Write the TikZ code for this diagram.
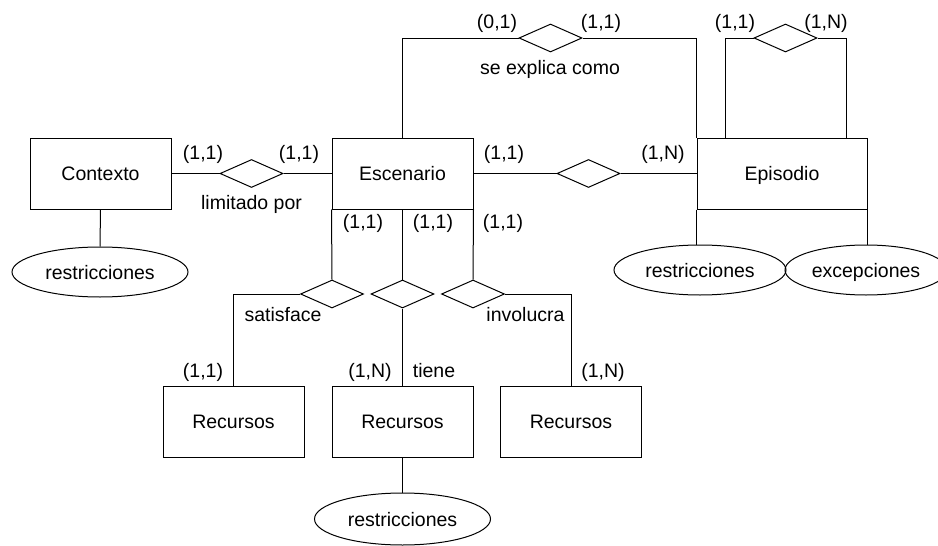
\documentclass[tikz,border=0pt]{standalone}
\usepackage{fontspec}
\setmainfont{Liberation Sans}
\usetikzlibrary{shapes.geometric}
\begin{document}
\begin{tikzpicture}[x=1pt,y=-1pt,line width=1pt,
  font=\fontsize{19.5pt}{23pt}\selectfont,
  entity/.style={draw,rectangle,minimum width=141pt,minimum height=71pt,inner sep=0pt,text height=14pt,text depth=0pt},
  relation/.style={draw,diamond,minimum width=63pt,minimum height=28pt,inner sep=0pt},
  attrib/.style={draw,ellipse,minimum width=176pt,minimum height=50pt,inner sep=0pt,text height=14pt,text depth=0pt},
  lbl/.style={inner sep=0pt},
  lblb/.style={inner sep=0pt,anchor=base}]
\useasboundingbox (0,0) rectangle (938,546);

% entities
\node[entity] (ctx) at (100.5,173.5) {Contexto};
\node[entity] (esc) at (402.5,173.5) {Escenario};
\node[entity,minimum width=170pt] (epi) at (782,173.5) {Episodio};
\node[entity] (rec1) at (233.5,421.5) {Recursos};
\node[entity] (rec2) at (402.5,421.5) {Recursos};
\node[entity] (rec3) at (571,421.5) {Recursos};

% relationships
\node[relation] (lim) at (251.5,173.5) {};
\node[relation] (exp) at (550.5,38) {};
\node[relation] (ee) at (588.5,173.5) {};
\node[relation] (self) at (785.5,38) {};
\node[relation] (sat) at (332,294) {};
\node[relation] (tie) at (402.5,294) {};
\node[relation] (inv) at (473,294) {};

% attributes
\node[attrib] (ctxr) at (100,272) {restricciones};
\node[attrib,minimum width=172pt] (epir) at (700,270) {restricciones};
\node[attrib,minimum width=162pt] (epiex) at (866,270) {excepciones};
\node[attrib,minimum height=52pt] (recr) at (402.5,519) {restricciones};

% connectors
\draw (ctx.east) -- (lim.west);
\draw (lim.east) -- (esc.west);
\draw (esc.north) |- (exp.west);
\draw (exp.east) -| (epi.north west);
\draw (esc.east) -- (ee.west);
\draw (ee.east) -- (epi.west);
\draw ([xshift=29pt]epi.north west) |- (self.west);
\draw (self.east) -| ([xshift=-21pt]epi.north east);
\draw (esc.south west) -- (sat.north);
\draw (esc.south) -- (tie.north);
\draw (esc.south east) -- (inv.north);
\draw (sat.west) -| (rec1.north);
\draw (tie.south) -- (rec2.north);
\draw (inv.east) -| (rec3.north);
\draw (ctx.south) -- (ctxr.north);
\draw (epi.south west) -- (epi.south west |- epir.north);
\draw (epi.south east) -- (epi.south east |- epiex.north);
\draw (rec2.south) -- (recr.north);

% labels
\node[lbl] (c1) at (203,154) {(1,1)};
\node[lbl] (c2) at (299,154) {(1,1)};
\node[lblb] (l1) at (251.5,209) {limitado por};
\node[lbl] (c3) at (497,23) {(0,1)};
\node[lbl] (c4) at (601,23) {(1,1)};
\node[lblb] (l2) at (550,74) {se explica como};
\node[lbl] (c5) at (504,154) {(1,1)};
\node[lbl] (c6) at (663,154) {(1,N)};
\node[lbl] (c7) at (735,23) {(1,1)};
\node[lbl] (c8) at (826,23) {(1,N)};
\node[lbl] (c9) at (363,223) {(1,1)};
\node[lbl] (c10) at (433,223) {(1,1)};
\node[lbl] (c11) at (503,223) {(1,1)};
\node[lblb] (l3) at (283,321) {satisface};
\node[lblb] (l4) at (525.5,321) {involucra};
\node[lbl] (c12) at (203,372) {(1,1)};
\node[lbl] (c13) at (370,372) {(1,N)};
\node[lblb] (l5) at (434,377) {tiene};
\node[lbl] (c14) at (603,372) {(1,N)};
\end{tikzpicture}
\end{document}
